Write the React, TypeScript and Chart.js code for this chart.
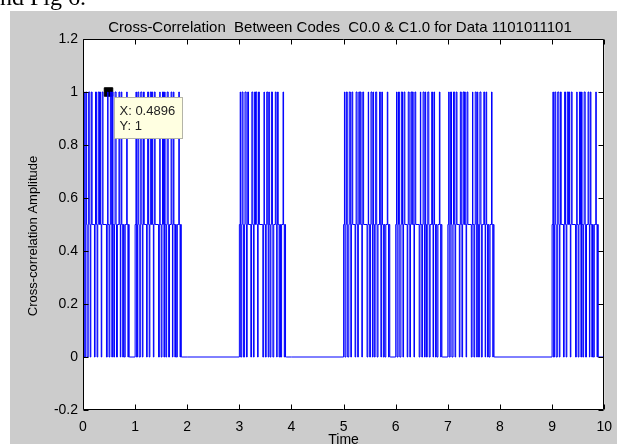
import React, { useEffect, useRef } from "react";
import { Chart, registerables } from "chart.js";

Chart.register(...registerables);

// Data bits of the code (one per unit of time)
const DATA_BITS = [1, 1, 0, 1, 0, 1, 1, 1, 0, 1];

// Pattern of the cross-correlation inside one active time unit:
// fraction of the unit where a level starts, and the level value
const CHIP_T = [
  0, 0.016, 0.025, 0.045, 0.053, 0.07, 0.078, 0.1, 0.108, 0.13, 0.138,
  0.15, 0.16, 0.175, 0.22, 0.232, 0.24, 0.258, 0.27, 0.283, 0.292, 0.31,
  0.318, 0.335, 0.35, 0.36, 0.368, 0.384, 0.45, 0.465, 0.473, 0.48, 0.5,
  0.515, 0.525, 0.545, 0.553, 0.565, 0.575, 0.59, 0.605, 0.615, 0.635,
  0.643, 0.66, 0.69, 0.705, 0.716, 0.725, 0.733, 0.745, 0.762, 0.775,
  0.79, 0.81, 0.838, 0.848, 0.862, 0.872, 0.886, 0.9,
];
const CHIP_V = [
  0, 0.5, 1, 0, 0.5, 1, 0.5, 0, 0.5, 1, 0.5,
  0, 0.5, 1, 0.5, 0, 0.5, 1, 0.5, 0, 0.5, 1,
  0.5, 1, 0.5, 0, 0.5, 1, 0.5, 0, 0.5, 1, 0.5,
  0, 0.5, 1, 0.5, 0, 1, 0.5, 0, 0.5, 1,
  0.5, 0, 0.5, 1, 0.5, 0, 0.5, 1, 0.5, 0,
  0.5, 0, 0.5, 1, 0.5, 0, 0.5, 0,
];

const X_TICKS = [0, 1, 2, 3, 4, 5, 6, 7, 8, 9, 10];
const Y_TICKS = [-0.2, 0, 0.2, 0.4, 0.6, 0.8, 1, 1.2];

const TIP_X = 0.4896;
const TIP_Y = 1;

const TITLE = "Cross-Correlation  Between Codes  C0.0 & C1.0 for Data 1101011101";
const X_LABEL = "Time";
const Y_LABEL = "Cross-correlation Amplitude";
const PAGE_TEXT = "nd Fig 6.";

const SANS = '"Liberation Sans", Arial, sans-serif';

export default function App() {
  const ref = useRef<HTMLCanvasElement>(null);

  useEffect(() => {
    const canvas = ref.current!;
    const pts: { x: number; y: number }[] = [];
    DATA_BITS.forEach((bit, u) => {
      if (bit) {
        CHIP_T.forEach((t, i) => pts.push({ x: u + t, y: CHIP_V[i] }));
      } else {
        pts.push({ x: u, y: 0 });
      }
    });
    pts.push({ x: X_TICKS[X_TICKS.length - 1], y: 0 });

    const bgPlugin = {
      id: "bg",
      beforeDraw(chart: any) {
        const ctx = chart.ctx;
        const a = chart.chartArea;
        ctx.save();
        ctx.fillStyle = "#ffffff";
        ctx.fillRect(0, 0, 621, 444);
        ctx.fillStyle = "#cccccc";
        ctx.fillRect(10, 11, 607, 433);
        ctx.fillStyle = "#ffffff";
        ctx.fillRect(a.left, a.top, a.right - a.left, a.bottom - a.top);
        ctx.fillStyle = "#000";
        ctx.font = '24px "Liberation Serif", "Times New Roman", serif';
        ctx.textBaseline = "alphabetic";
        ctx.textAlign = "left";
        ctx.fillText(PAGE_TEXT, 0, 5);
        ctx.restore();
      },
      afterDatasetsDraw(chart: any) {
        const ctx = chart.ctx;
        const a = chart.chartArea;
        const xs = chart.scales.x;
        const ys = chart.scales.y;
        ctx.save();
        ctx.strokeStyle = "#000";
        ctx.lineWidth = 1;
        const L = Math.round(a.left) + 0.5;
        const R = Math.round(a.right) - 0.5;
        const T = Math.round(a.top) + 0.5;
        const B = Math.round(a.bottom) - 0.5;
        ctx.beginPath();
        ctx.rect(L, T, R - L, B - T);
        X_TICKS.forEach((v) => {
          const px = Math.round(xs.getPixelForValue(v)) + 0.5;
          ctx.moveTo(px, B);
          ctx.lineTo(px, B - 5);
          ctx.moveTo(px, T);
          ctx.lineTo(px, T + 5);
        });
        Y_TICKS.forEach((v) => {
          const py = Math.round(ys.getPixelForValue(v)) + 0.5;
          ctx.moveTo(L, py);
          ctx.lineTo(L + 5, py);
          ctx.moveTo(R, py);
          ctx.lineTo(R - 5, py);
        });
        ctx.stroke();
        ctx.restore();
      },
      afterDraw(chart: any) {
        const ctx = chart.ctx;
        const a = chart.chartArea;
        const xs = chart.scales.x;
        const ys = chart.scales.y;
        ctx.save();
        ctx.fillStyle = "#000";
        ctx.textAlign = "center";
        ctx.textBaseline = "alphabetic";
        ctx.font = "15px " + SANS;
        ctx.fillText(TITLE, 340, 32);
        ctx.font = "14px " + SANS;
        ctx.fillText(X_LABEL, (a.left + a.right) / 2, 444);
        ctx.translate(37, 236);
        ctx.rotate(-Math.PI / 2);
        ctx.font = "13px " + SANS;
        ctx.fillText(Y_LABEL, 0, 0);
        ctx.restore();

        // data tip
        const mx = xs.getPixelForValue(TIP_X);
        const my = ys.getPixelForValue(TIP_Y);
        const bx = Math.round(mx + 5) + 0.5;
        const by = Math.round(my + 5) + 0.5;
        ctx.save();
        ctx.fillStyle = "#ffffe1";
        ctx.strokeStyle = "#b4b4a8";
        ctx.lineWidth = 1;
        ctx.fillRect(bx, by, 68, 41);
        ctx.strokeRect(bx, by, 68, 41);
        ctx.fillStyle = "#222";
        ctx.font = "13px " + SANS;
        ctx.textAlign = "left";
        ctx.textBaseline = "alphabetic";
        ctx.fillText("X: " + TIP_X, bx + 5, by + 17);
        ctx.fillText("Y: " + TIP_Y, bx + 5, by + 32);
        ctx.restore();
      },
    };

    const chart = new Chart(canvas, {
      type: "line",
      data: {
        datasets: [
          {
            data: pts,
            stepped: "after",
            borderColor: "#0000ff",
            borderWidth: 1,
            pointRadius: 0,
            fill: false,
            tension: 0,
          },
          {
            data: [{ x: TIP_X, y: TIP_Y }],
            showLine: false,
            pointStyle: "rect",
            pointRadius: 6,
            borderWidth: 1,
            backgroundColor: "#000",
            borderColor: "#000",
          },
        ],
      },
      options: {
        animation: false,
        responsive: false,
        devicePixelRatio: 1,
        events: [],
        layout: { padding: { left: 10, right: 14, top: 39, bottom: 0 } },
        plugins: {
          legend: { display: false },
          tooltip: { enabled: false },
          title: { display: false },
        },
        scales: {
          x: {
            type: "linear",
            min: X_TICKS[0],
            max: X_TICKS[X_TICKS.length - 1],
            grid: { display: false, drawTicks: false },
            border: { display: false },
            afterBuildTicks: (s: any) => {
              s.ticks = X_TICKS.map((v) => ({ value: v }));
            },
            afterFit: (s: any) => {
              s.height = 34;
            },
            ticks: {
              color: "#000",
              font: { family: SANS, size: 14 },
              padding: 9,
              maxRotation: 0,
              autoSkip: false,
              callback: (v: any) => String(v),
            },
          },
          y: {
            type: "linear",
            min: Y_TICKS[0],
            max: Y_TICKS[Y_TICKS.length - 1],
            grid: { display: false, drawTicks: false },
            border: { display: false },
            afterBuildTicks: (s: any) => {
              s.ticks = Y_TICKS.map((v) => ({ value: v }));
            },
            afterFit: (s: any) => {
              s.width = 73;
            },
            ticks: {
              color: "#000",
              font: { family: SANS, size: 14 },
              padding: 5,
              autoSkip: false,
              callback: (v: any) => String(Math.round(Number(v) * 10) / 10),
            },
          },
        },
      },
      plugins: [bgPlugin],
    } as any);

    return () => chart.destroy();
  }, []);

  return (
    <div style={{ position: "absolute", left: 0, top: 0, width: 621, height: 444 }}>
      <canvas ref={ref} width={621} height={444} style={{ display: "block" }} />
    </div>
  );
}
